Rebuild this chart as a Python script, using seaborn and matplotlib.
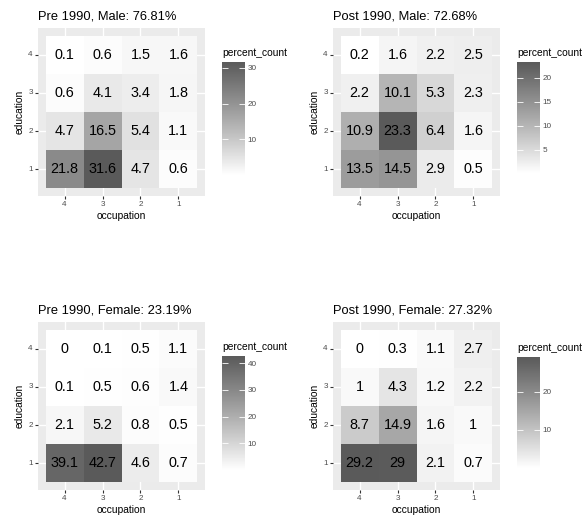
import numpy as np
import pandas as pd
import matplotlib
matplotlib.use("Agg")
import matplotlib.pyplot as plt
from matplotlib.colors import ListedColormap
import seaborn as sns

# occupation (columns, left to right) and education (rows, top to bottom)
occupation = ["4", "3", "2", "1"]
education = ["4", "3", "2", "1"]

pre_male = [[0.1, 0.6, 1.5, 1.6],
            [0.6, 4.1, 3.4, 1.8],
            [4.7, 16.5, 5.4, 1.1],
            [21.8, 31.6, 4.7, 0.6]]
post_male = [[0.2, 1.6, 2.2, 2.5],
             [2.2, 10.1, 5.3, 2.3],
             [10.9, 23.3, 6.4, 1.6],
             [13.5, 14.5, 2.9, 0.5]]
pre_female = [[0, 0.1, 0.5, 1.1],
              [0.1, 0.5, 0.6, 1.4],
              [2.1, 5.2, 0.8, 0.5],
              [39.1, 42.7, 4.6, 0.7]]
post_female = [[0, 0.3, 1.1, 2.7],
               [1, 4.3, 1.2, 2.2],
               [8.7, 14.9, 1.6, 1],
               [29.2, 29, 2.1, 0.7]]

titles = ["Pre 1990, Male: 76.81%", "Post 1990, Male: 72.68%",
          "Pre 1990, Female: 23.19%", "Post 1990, Female: 27.32%"]
cbar_ticks = [[10, 20, 30], [5, 10, 15, 20], [10, 20, 30, 40], [10, 20]]
panels = [pre_male, post_male, pre_female, post_female]

plt.rcParams["font.family"] = ["Liberation Sans", "DejaVu Sans"]


# white -> grey gradient interpolated in L* like ggplot's scale_fill_gradient
def lab_grey_cmap(high_val=90, n=256):
    def to_lin(v):
        v = v / 255.0
        return ((v + 0.055) / 1.055) ** 2.4 if v > 0.04045 else v / 12.92

    def L_of(v):
        y = to_lin(v)
        return 116 * y ** (1 / 3) - 16

    def grey_of(L):
        y = ((L + 16) / 116) ** 3
        s = 1.055 * y ** (1 / 2.4) - 0.055 if y > 0.0031308 else 12.92 * y
        return min(max(s, 0), 1)

    L0, L1 = L_of(255), L_of(high_val)
    cols = [[grey_of(L0 + (L1 - L0) * t)] * 3 for t in np.linspace(0, 1, n)]
    return ListedColormap(cols)


cmap = lab_grey_cmap()

fig = plt.figure(figsize=(5.83, 5.18), dpi=100)
W, H = 583, 518

# pixel boxes: panel (x0, y0, x1, y1) and colourbar
panel_px = [(38, 28, 205, 196), (333, 28, 500, 196),
            (38, 322, 205, 490), (333, 322, 500, 490)]
cbar_px = [(222, 62, 245, 175), (517, 62, 540, 173),
           (222, 356, 245, 470), (517, 357, 540, 468)]


def box(p):
    x0, y0, x1, y1 = p
    return [x0 / W, 1 - y1 / H, (x1 - x0) / W, (y1 - y0) / H]


for i, vals in enumerate(panels):
    ax = fig.add_axes(box(panel_px[i]))
    cax = fig.add_axes(box(cbar_px[i]))
    df = pd.DataFrame(vals, index=education, columns=occupation)
    labels = df.map(lambda v: f"{v:g}")
    sns.heatmap(df, ax=ax, cmap=cmap, vmin=df.values.min(), vmax=df.values.max(),
                annot=labels, fmt="", cbar_ax=cax,
                annot_kws={"color": "black", "fontsize": 10.4})
    ax.set_facecolor("#EBEBEB")
    ax.set_xlim(-0.2, 4.2)
    ax.set_ylim(4.2, -0.2)
    ax.grid(True, color="white", lw=1.0)
    ax.set_axisbelow(True)
    for s in ax.spines.values():
        s.set_visible(False)
    ax.tick_params(length=2.2, width=0.8, color="#333333", labelsize=5.9,
                   labelcolor="#4D4D4D", pad=1.5)
    ax.tick_params(axis="y", labelrotation=0)
    ax.tick_params(axis="x", labelrotation=0)
    ax.set_xlabel("occupation", fontsize=7.4, labelpad=2)
    ax.set_ylabel("education", fontsize=7.4, labelpad=3)
    ax.set_title(titles[i], loc="left", fontsize=9.3, pad=6)

    cax.set_yticks(cbar_ticks[i])
    cax.tick_params(direction="in", length=4.5, width=0.6, color="white",
                    left=True, right=True, labelleft=False, labelright=True,
                    labelsize=5.9, labelcolor="#4D4D4D", pad=2)
    for s in cax.spines.values():
        s.set_visible(False)
    cax.set_title("percent_count", loc="left", fontsize=7.4, pad=4)

fig.savefig("out.png", dpi=100)
